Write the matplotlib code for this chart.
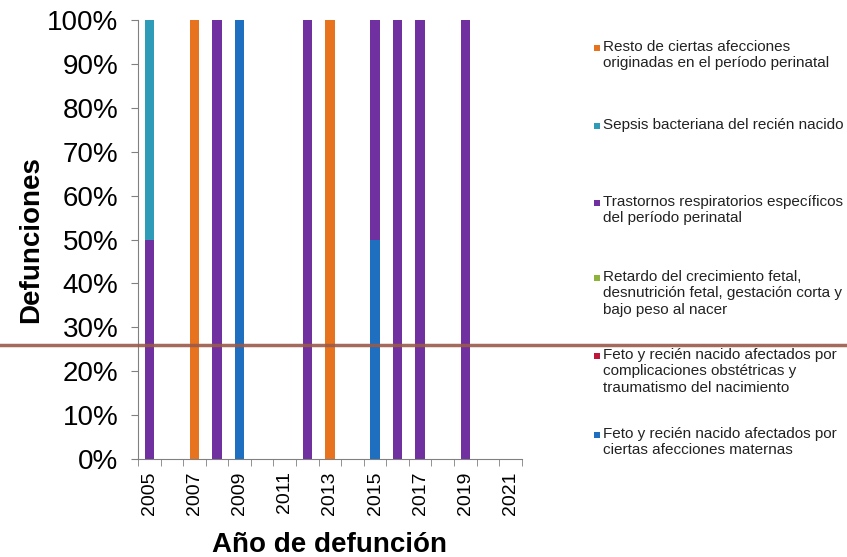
import numpy as np
import matplotlib
matplotlib.use("Agg")
import matplotlib.pyplot as plt
from matplotlib.patches import Rectangle
from matplotlib.lines import Line2D

plt.rcParams['font.family'] = ['Liberation Sans', 'DejaVu Sans']

years = list(range(2005, 2022))
# percentages per year (stack order bottom -> top)
maternas   = [0, 0, 0, 0, 100, 0, 0, 0, 0, 0, 50, 0, 0, 0, 0, 0, 0]
obstetricas = [0]*17
retardo    = [0]*17
respirat   = [50, 0, 0, 100, 0, 0, 0, 100, 0, 0, 50, 100, 100, 0, 100, 0, 0]
sepsis     = [50, 0, 0, 0, 0, 0, 0, 0, 0, 0, 0, 0, 0, 0, 0, 0, 0]
resto      = [0, 0, 100, 0, 0, 0, 0, 0, 100, 0, 0, 0, 0, 0, 0, 0, 0]

series = [
    ("Feto y recién nacido afectados por\nciertas afecciones maternas", maternas, "#1f6fc0"),
    ("Feto y recién nacido afectados por\ncomplicaciones obstétricas y\ntraumatismo del nacimiento", obstetricas, "#c0163c"),
    ("Retardo del crecimiento fetal,\ndesnutrición fetal, gestación corta y\nbajo peso al nacer", retardo, "#8db33a"),
    ("Trastornos respiratorios específicos\ndel período perinatal", respirat, "#7030a0"),
    ("Sepsis bacteriana del recién nacido", sepsis, "#2e9bb8"),
    ("Resto de ciertas afecciones\noriginadas en el período perinatal", resto, "#e8731e"),
]

fig = plt.figure(figsize=(8.47, 5.57), dpi=100)
fig.patch.set_facecolor("white")
ax = fig.add_axes([0.163, 0.176, 0.453, 0.788])

x = np.arange(len(years))
bottom = np.zeros(len(years))
for label, vals, color in series:
    v = np.array(vals, dtype=float)
    ax.bar(x, v, bottom=bottom, width=0.42, color=color, label=label)
    bottom += v

ax.set_xlim(-0.5, len(years) - 0.5)
ax.set_ylim(0, 100)
ax.set_yticks(np.arange(0, 101, 10))
ax.set_yticklabels([f"{t}%" for t in range(0, 101, 10)], fontsize=20)
ax.set_xticks(x[::2])
ax.set_xticklabels([str(y) for y in years[::2]], rotation=90, fontsize=14)
ax.set_xticks(np.arange(-0.5, len(years), 1), minor=True)
ax.tick_params(axis='x', which='major', length=0, pad=9)
ax.tick_params(axis='x', which='minor', length=5, color="#808080", direction='out')
ax.tick_params(axis='y', length=5, color="#808080", pad=9)
for s in ['top', 'right']:
    ax.spines[s].set_visible(False)
for s in ['left', 'bottom']:
    ax.spines[s].set_color("#808080")

ax.set_ylabel("Defunciones", fontsize=20, fontweight='bold', labelpad=2)
ax.set_xlabel("Año de defunción", fontsize=20, fontweight='bold', labelpad=12)

# legend, drawn manually (reverse order, top to bottom)
W, H = 847, 557
legend_y = [40, 118, 195, 270, 348, 427]
for (label, vals, color), ytop in zip(reversed(series), legend_y):
    fig.text(603 / W, 1 - ytop / H, label, fontsize=11, va='top', ha='left',
             linespacing=1.22, color="#222222")
    fig.patches.append(Rectangle((594 / W, 1 - (ytop + 11) / H), 6 / W, 6 / H,
                                 transform=fig.transFigure, facecolor=color,
                                 edgecolor='none'))

# brown horizontal line across the page
fig.add_artist(Line2D([0, 1], [1 - 345 / H, 1 - 345 / H], transform=fig.transFigure,
                      color="#9a5a4a", linewidth=2.5, alpha=0.9))

fig.savefig("out.png", dpi=100)
